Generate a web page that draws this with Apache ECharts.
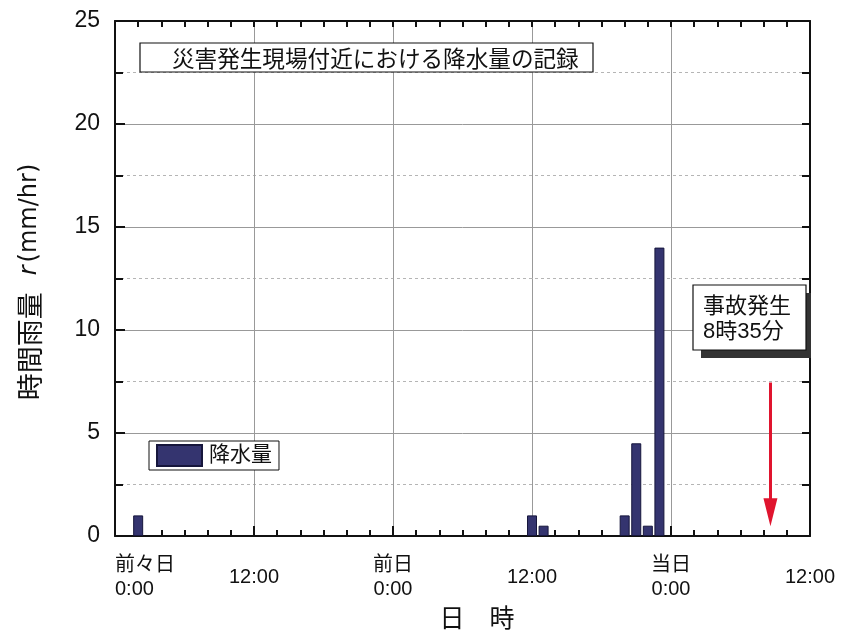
<!DOCTYPE html>
<html><head><meta charset="utf-8">
<script src="https://cdn.jsdelivr.net/npm/echarts@6/dist/echarts.min.js"></script>
<style>html,body{margin:0;padding:0;background:#fff}#c{width:847px;height:638px}</style>
</head><body><div id="c"></div>
<script>
// ---- data ----
const rainHours = [2, 36, 37, 44, 45, 46, 47];          // hours since 前々日 0:00
const rainValues = [1.0, 1.0, 0.5, 1.0, 4.5, 0.5, 14.0]; // mm/hr
const xTickHours = [0, 12, 24, 36, 48, 60];
const xTickLabels = ['前々日\n0:00', '12:00', '前日\n0:00', '12:00', '当日\n0:00', '12:00'];
const yTicks = [0, 5, 10, 15, 20, 25];
const xMinorStep = 2, yMinorStep = 2.5;
const accidentHour = 48 + 8 + 35 / 60;
const arrowFrom = 7.45, arrowTo = 1.15;
const seriesName = '降水量';
const titleText = '災害発生現場付近における降水量の記録';
const accidentText = '事故発生\n8時35分';

const FONT = "'Liberation Sans','Noto Sans CJK JP',sans-serif";
const GRID = {left: 115, right: 37, top: 21, bottom: 102};
const PW = 847 - GRID.left - GRID.right, PH = 638 - GRID.top - GRID.bottom;
const pxX = PW / 60, pxY = PH / 25;   // pixels per data unit
const chart = echarts.init(document.getElementById('c'), null, {renderer: 'canvas'});

// frame tick marks (inside), as short segments in data units
const tickSegs = [];
for (let h = 0; h <= 60; h += xMinorStep) {
  const lb = (h % 12 === 0 ? 10 : 6) / pxY;
  tickSegs.push([{coord: [h, 0]}, {coord: [h, lb]}]);
  tickSegs.push([{coord: [h, 25]}, {coord: [h, 25 - 6 / pxY]}]);
}
for (let v = 0; v <= 25; v += yMinorStep) {
  const ll = (v % 5 === 0 ? 10 : 8) / pxX;
  tickSegs.push([{coord: [0, v]}, {coord: [ll, v]}]);
  tickSegs.push([{coord: [60, v]}, {coord: [60 - 8 / pxX, v]}]);
}

function axisLineStyle() { return {color: '#111', width: 2}; }
function xAx(extra) {
  return Object.assign({
    type: 'value', min: 0, max: 60, interval: 12,
    axisLine: {show: true, onZero: false, lineStyle: axisLineStyle()},
    axisTick: {show: false},
    splitLine: {show: false}, axisLabel: {show: false}
  }, extra);
}
function yAx(extra) {
  return Object.assign({
    type: 'value', min: 0, max: 25, interval: 5,
    axisLine: {show: true, onZero: false, lineStyle: axisLineStyle()},
    axisTick: {show: false},
    splitLine: {show: false}, axisLabel: {show: false}
  }, extra);
}
chart.setOption({
  backgroundColor: '#fff',
  animation: false,
  textStyle: {fontFamily: FONT},
  grid: GRID,
  legend: {
    show: true, left: 149, top: 441, orient: 'horizontal',
    backgroundColor: '#fff', borderColor: '#111', borderWidth: 1,
    padding: [3, 7, 3, 7], itemWidth: 45, itemHeight: 21, itemGap: 9,
    icon: 'rect',
    textStyle: {fontSize: 21, color: '#111', fontFamily: FONT, padding: [0, 0, 0, 2]},
    data: [seriesName]
  },
  xAxis: [
    xAx({
      position: 'bottom',
      splitLine: {show: true, lineStyle: {color: '#999', width: 1}},
      axisLabel: {
        show: true, margin: 41, verticalAlign: 'middle', fontSize: 20, lineHeight: 24,
        color: '#111', alignMinLabel: 'left', fontFamily: FONT,
        formatter: v => { const i = xTickHours.indexOf(v); return i >= 0 ? xTickLabels[i] : ''; }
      }
    }),
    xAx({position: 'top'})
  ],
  yAxis: [
    yAx({
      position: 'left',
      splitLine: {show: true, lineStyle: {color: '#999', width: 1}},
      minorTick: {show: false, splitNumber: 2},
      minorSplitLine: {show: true, lineStyle: {color: '#b5b5b5', width: 1, type: [3, 3]}},
      axisLabel: {show: true, fontSize: 23, color: '#111', margin: 15, fontFamily: FONT,
        formatter: v => yTicks.indexOf(v) >= 0 ? String(v) : ''}
    }),
    yAx({position: 'right'})
  ],
  series: [{
    name: seriesName, type: 'bar', xAxisIndex: 0, yAxisIndex: 0,
    barWidth: 10, z: 5,
    itemStyle: {color: '#34346f', borderColor: '#16163c', borderWidth: 1},
    data: rainHours.map((h, i) => [h, rainValues[i]]),
    markLine: {
      silent: true, animation: false,
      symbol: ['none', 'triangle'], symbolSize: [14, 28],
      label: {show: false},
      lineStyle: {color: '#e0142e', width: 3, type: 'solid'},
      itemStyle: {color: '#e0142e'},
      data: [[{coord: [accidentHour, arrowFrom]}, {coord: [accidentHour, arrowTo]}]]
    }
  }, {
    name: 'frameTicks', type: 'line', xAxisIndex: 0, yAxisIndex: 0, z: 20,
    data: [[0, 0]], symbol: 'none', showSymbol: false, silent: true,
    lineStyle: {opacity: 0}, tooltip: {show: false},
    markLine: {
      silent: true, animation: false, symbol: ['none', 'none'],
      label: {show: false}, emphasis: {disabled: true},
      lineStyle: {color: '#111', width: 2, type: 'solid', opacity: 1},
      data: tickSegs
    }
  }],
  graphic: [
    {type: 'rect', shape: {x: 140, y: 43, width: 453, height: 29},
      style: {fill: '#fff', stroke: '#111', lineWidth: 1.2}, z: 100},
    {type: 'text', x: 172, y: 58, z: 101,
      style: {text: titleText, font: "22.6px 'Noto Sans CJK JP',sans-serif", fill: '#111',
        textAlign: 'left', textVerticalAlign: 'middle'}},
    {type: 'rect', shape: {x: 701, y: 293, width: 110, height: 65},
      style: {fill: '#333', stroke: null}, z: 100},
    {type: 'rect', shape: {x: 693, y: 285, width: 113, height: 65},
      style: {fill: '#fff', stroke: '#111', lineWidth: 1.2}, z: 101},
    {type: 'text', x: 703, y: 319, z: 102,
      style: {text: accidentText, font: "22px 'Liberation Sans','Noto Sans CJK JP',sans-serif",
        lineHeight: 25, fill: '#111', textAlign: 'left', textVerticalAlign: 'middle'}},
    {type: 'text', x: 477, y: 617, z: 100,
      style: {text: '日　時', font: "25px 'Noto Sans CJK JP',sans-serif", fill: '#111',
        textAlign: 'center', textVerticalAlign: 'middle'}},
    {type: 'text', x: 30, y: 282, rotation: Math.PI / 2, z: 100,
      style: {
        text: '{a|時間雨量}{s| }{b|r}{t| }{c|(mm/hr)}',
        textAlign: 'center', textVerticalAlign: 'middle', fill: '#111',
        rich: {
          a: {fontSize: 27, fontFamily: 'Noto Sans CJK JP', fill: '#111'},
          s: {fontSize: 27, width: 17},
          b: {fontSize: 24, fontFamily: 'DejaVu Sans', fontStyle: 'italic', fill: '#111'},
          t: {fontSize: 24, width: 3},
          c: {fontSize: 24, fontFamily: 'DejaVu Sans', fill: '#111'}
        }
      }}
  ]
});
</script></body></html>
